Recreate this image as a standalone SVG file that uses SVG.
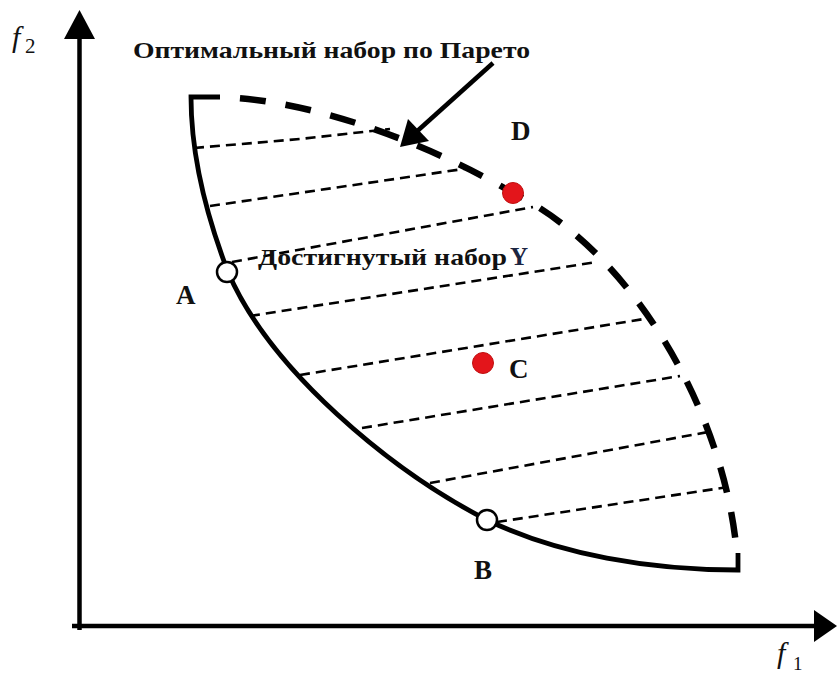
<svg xmlns="http://www.w3.org/2000/svg" width="837" height="674" viewBox="0 0 837 674">
<style>
.axis{stroke:#000;stroke-width:4.5;fill:none}
.solid{stroke:#000;stroke-width:4.8;fill:none;stroke-linejoin:miter}
.thick{stroke:#000;stroke-width:6.5;fill:none;stroke-dasharray:26 20;stroke-dashoffset:26}
.hatch{stroke:#000;stroke-width:2.6;fill:none;stroke-dasharray:10 6}
.lbl{font-family:"Liberation Serif","Times New Roman",serif;font-weight:bold;fill:#111}
.ax{font-family:"Liberation Serif","Times New Roman",serif;font-style:italic;fill:#111}
.sub{font-family:"Liberation Serif","Times New Roman",serif;fill:#111}
.open{fill:#fff;stroke:#000;stroke-width:2.5}
.red{fill:#e3151b;stroke:#c01010;stroke-width:1}
</style>
<rect width="837" height="674" fill="#fff"/>
<g id="axes">
<line class="axis" x1="79.5" y1="630" x2="79.5" y2="34"/>
<polygon points="79.5,10 64,39 95,39" fill="#000"/>
<line class="axis" x1="72" y1="626" x2="816" y2="626"/>
<polygon points="837,626 814,610 814,642" fill="#000"/>
<text class="ax" x="12" y="47" font-size="30">f</text>
<text class="sub" x="25" y="53" font-size="21">2</text>
<text class="ax" x="777" y="663" font-size="30">f</text>
<text class="sub" x="793" y="670" font-size="19">1</text>
</g>
<g id="connectors">
<path class="hatch" d="M194,148 L300,139 L390,129"/>
<path class="hatch" d="M210,206 L470,168"/>
<path class="hatch" d="M232,262 L533,207"/>
<path class="hatch" d="M250,316 L597,262"/>
<path class="hatch" d="M300,375 L650,318"/>
<path class="hatch" d="M362,428 L680,376"/>
<path class="hatch" d="M430,483 L708,432"/>
<path class="hatch" d="M497,522 L728,487"/>
</g>
<g id="achieved-boundary">
<path class="solid" d="M220,97 L191,97 C191,160 210,225 228,272 C270,370 390,470 487,520 C560,555 650,570 738,570 L738,553"/>
</g>
<g id="pareto-front">
<path class="thick" d="M220,97 C320,100 440,150 513,193 C630,250 725,410 737,555"/>
</g>
<g id="pareto-label">
<text class="lbl" x="133" y="58" font-size="23" textLength="397" lengthAdjust="spacingAndGlyphs">Оптимальный набор по Парето</text>
<line x1="493" y1="63" x2="414" y2="134" stroke="#000" stroke-width="4.5"/>
<polygon points="400,147 408,119 429,141" fill="#000"/>
</g>
<g id="achieved-label">
<text class="lbl" x="258" y="265" font-size="24" textLength="249" lengthAdjust="spacingAndGlyphs">Достигнутый набор</text>
<text class="lbl" x="510" y="265" font-size="25" style="fill:#1c2541">Y</text>
</g>
<g id="point-A">
<circle class="open" cx="227" cy="272" r="10"/>
<text class="lbl" x="176" y="304" font-size="27">A</text>
</g>
<g id="point-B">
<circle class="open" cx="487" cy="520" r="10"/>
<text class="lbl" x="474" y="579" font-size="27">B</text>
</g>
<g id="point-C">
<circle class="red" cx="483" cy="363" r="10.5"/>
<text class="lbl" x="509" y="378" font-size="27">C</text>
</g>
<g id="point-D">
<circle class="red" cx="513" cy="193" r="10.5"/>
<text class="lbl" x="511" y="140" font-size="27">D</text>
</g>
</svg>
